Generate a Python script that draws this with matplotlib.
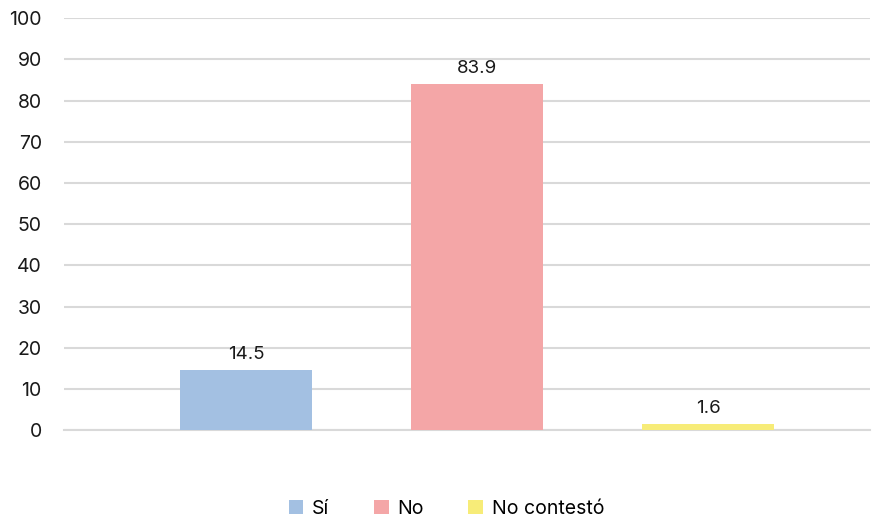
import matplotlib
matplotlib.use("Agg")
import matplotlib.pyplot as plt
import numpy as np

plt.rcParams['font.family'] = ['Inter', 'DejaVu Sans']

# Data
categories = ['Sí', 'No', 'No contestó']
values = [14.5, 83.9, 1.6]
colors = ['#a3c0e2', '#f4a6a7', '#f7ec78']
y_ticks = [0, 10, 20, 30, 40, 50, 60, 70, 80, 90, 100]

fig = plt.figure(figsize=(8.72, 5.17), dpi=100)
ax = fig.add_axes([0.0734, 0.168, 0.924, 0.797])

x = np.arange(len(categories))
bars = ax.bar(x, values, width=0.571, color=colors, label=categories, zorder=3)

for b, v in zip(bars, values):
    ax.annotate(f'{v}', (b.get_x() + b.get_width() / 2, v),
                xytext=(0, 5), textcoords='offset points',
                ha='center', va='bottom', fontsize=13.5, color='#1a1a1a')

ax.set_xlim(-0.788, 2.70)
ax.set_ylim(0, 100)
ax.set_yticks(y_ticks)
ax.set_xticks([])
ax.tick_params(axis='y', length=0, pad=16, labelsize=14, labelcolor='#1a1a1a')
ax.yaxis.grid(True, color='#d9d9d9', linewidth=1.5, zorder=0)
for s in ['top', 'right', 'left']:
    ax.spines[s].set_visible(False)
ax.spines['bottom'].set_color('#d9d9d9')
ax.spines['bottom'].set_linewidth(1.5)

fig.legend(loc='lower center', ncol=3, frameon=False, fontsize=14,
           handlelength=0.75, handleheight=0.75, columnspacing=2.3,
           handletextpad=0.45, bbox_to_anchor=(0.512, -0.035))

fig.savefig('out.png', dpi=100)
